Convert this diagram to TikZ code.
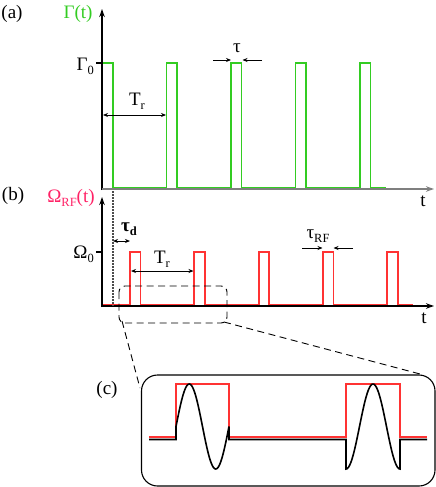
\documentclass[tikz,border=0pt]{standalone}
\usepackage{fontspec}
\setmainfont{Liberation Serif}
\usetikzlibrary{arrows.meta}

\definecolor{pulsegreen}{HTML}{33CC22}
\definecolor{pulsered}{HTML}{FF3333}
\definecolor{omegapink}{HTML}{FF2266}
\definecolor{axisgray}{HTML}{7F7F7F}

\newcommand{\lowidx}[1]{\raisebox{-0.45ex}{\fontsize{12.5}{13}\selectfont #1}}

\tikzset{
  axis/.style={line width=1.4pt, -{Stealth[length=8pt,width=5.5pt]}},
  pulse/.style={line width=1.8pt, line join=miter},
  dimarrow/.style={line width=0.9pt, {Stealth[length=5pt,width=4pt]}-{Stealth[length=5pt,width=4pt]}},
  inarrow/.style={line width=0.9pt, -{Stealth[length=5pt,width=4pt]}},
  lbl/.style={font=\fontsize{19}{22}\selectfont, inner sep=0pt},
  zoomline/.style={line width=0.9pt, dash pattern=on 7pt off 4.5pt},
}

\begin{document}
\begin{tikzpicture}[x=1pt,y=-1pt]
  \useasboundingbox (0,0) rectangle (436,487);

  % (a) dissipation pulses
  \begin{scope}
    \draw[pulse,pulsegreen] (102.5,63) -- (113,63) -- (113,188)
      \foreach \x in {166.5,231,295.5,360} { -- (\x,188) -- (\x,63) -- (\x+10.5,63) -- (\x+10.5,188) }
      -- (386,188);
    \coordinate (oa) at (102,189);
    \coordinate (ya) at (102,9);
    \coordinate (xa) at (434,189);
    \draw[axis] (102,190) -- (ya);
    \draw[axis,axisgray] (oa) -- (xa);
    \draw[line width=1.2pt] (96,63) -- (102,63);
    \node[lbl] (la) at (12,14) {(a)};
    \node[lbl,text=pulsegreen] (gam) at (78,14) {Γ(t)};
    \node[lbl,anchor=east] (gam0) at (94,66) {Γ\lowidx{0}};
    \node[lbl] (ta) at (423,201) {t};
    % repetition time
    \coordinate (tra) at (103,115);
    \coordinate (trb) at (166,115);
    \draw[dimarrow] (tra) -- (trb);
    \node[lbl] (tr1) at (137,101) {T\lowidx{r}};
    % pulse width
    \coordinate (wl) at (213,60);
    \coordinate (wla) at (231,60);
    \coordinate (wr) at (262,60);
    \coordinate (wra) at (242.5,60);
    \draw[inarrow] (wl) -- (wla);
    \draw[inarrow] (wr) -- (wra);
    \node[lbl] (tau) at (237,48) {τ};
  \end{scope}

  % (b) RF pulses
  \begin{scope}
    \draw[pulse,pulsered] (103,305)
      \foreach \x in {130,194.3,258.6,322.9,387.2} { -- (\x,305) -- (\x,252) -- (\x+10.5,252) -- (\x+10.5,305) }
      -- (413,305);
    \coordinate (ob) at (102,306);
    \coordinate (yb) at (102,197);
    \coordinate (xb) at (434,306);
    \draw[axis] (102,307) -- (yb);
    \draw[axis] (ob) -- (xb);
    \draw[line width=1.2pt] (96,252) -- (102,252);
    \node[lbl] (lb) at (13,196) {(b)};
    \node[lbl,text=omegapink] (om) at (71,198) {Ω\lowidx{RF}(t)};
    \node[lbl,anchor=east] (om0) at (94,254) {Ω\lowidx{0}};
    \node[lbl] (tb) at (424,318) {t};
    % delay
    \coordinate (dtop) at (113,191);
    \coordinate (dbot) at (113,306);
    \draw[black!70,line width=1.1pt,dash pattern=on 1.5pt off 1.5pt] (dtop) -- (dbot);
    \coordinate (da) at (113,241);
    \coordinate (db) at (130,241);
    \draw[dimarrow] (da) -- (db);
    \node[lbl,font=\fontsize{19}{22}\selectfont\bfseries] (taud) at (129,229) {τ\lowidx{d}};
    % repetition time
    \coordinate (trc) at (131,271);
    \coordinate (trd) at (193.5,271);
    \draw[dimarrow] (trc) -- (trd);
    \node[lbl] (tr2) at (162,259) {T\lowidx{r}};
    % RF pulse width
    \coordinate (rl) at (302,248);
    \coordinate (rla) at (322.5,248);
    \coordinate (rr) at (353,248);
    \coordinate (rra) at (333.5,248);
    \draw[inarrow] (rl) -- (rla);
    \draw[inarrow] (rr) -- (rra);
    \node[lbl] (taurf) at (318,236) {τ\lowidx{RF}};
  \end{scope}

  % zoom window
  \draw[zoomline,rounded corners=6pt] (119,286) rectangle (227,323);
  \coordinate (zl) at (122,321);
  \coordinate (zr) at (224,322);
  \coordinate (cl) at (140,388);
  \coordinate (cr) at (420,374);
  \draw[zoomline] (zl) -- (cl);
  \draw[zoomline] (zr) -- (cr);

  % (c) close-up
  \begin{scope}
    \draw[line width=1.1pt,rounded corners=16pt] (141.5,375) rectangle (435,486);
    \node[lbl] (lc) at (107,390) {(c)};
    \draw[pulse,pulsered] (149,437) -- (176,437) -- (176,384) -- (229,384) -- (229,437)
      -- (346,437) -- (346,384) -- (400,384) -- (400,437) -- (427,437);
    \draw[line width=1.6pt] (149,439.5) -- (176,439.5) -- (176,426.5)
      -- plot[domain=176:229,samples=60] (\x,{426.5-42.5*sin((\x-176)/53*360)})
      -- (229,439.5) -- (346,439.5) -- (346,469)
      -- plot[domain=346:400,samples=60] (\x,{426.5+42.5*cos((\x-346)/54*360)})
      -- (400,439.5) -- (427,439.5);
  \end{scope}
\end{tikzpicture}
\end{document}
